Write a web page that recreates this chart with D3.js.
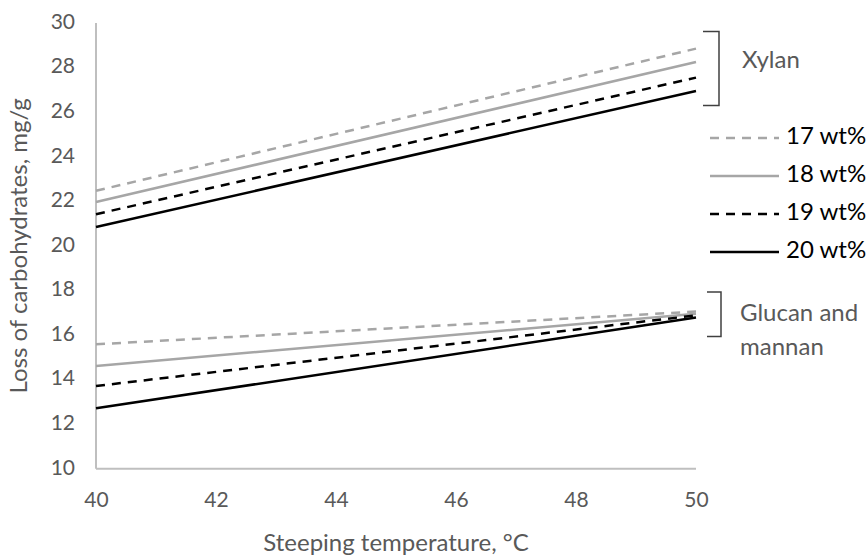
<!DOCTYPE html>
<html><head><meta charset="utf-8">
<script src="https://cdn.jsdelivr.net/npm/d3@7"></script>
<style>
html,body{margin:0;padding:0;background:#fff;}
svg{display:block;font-family:Lato,"Open Sans",sans-serif;}
</style></head>
<body>
<svg id="c" width="867" height="558"></svg>
<script>
const temps = [40, 50];
const seriesNames = ["17 wt%", "18 wt%", "19 wt%", "20 wt%"];
const xylan17 = [22.47, 28.85];
const xylan18 = [21.97, 28.25];
const xylan19 = [21.42, 27.55];
const xylan20 = [20.85, 26.95];
const glucan17 = [15.58, 17.05];
const glucan18 = [14.61, 16.95];
const glucan19 = [13.71, 16.88];
const glucan20 = [12.71, 16.78];
const xTicks = [40, 42, 44, 46, 48, 50];
const yTicks = [10, 12, 14, 16, 18, 20, 22, 24, 26, 28, 30];
const groupLabels = ["Xylan", "Glucan and", "mannan"];

const styles = [
  {color: "#a6a6a6", dash: "9,7"},
  {color: "#a6a6a6", dash: null},
  {color: "#000000", dash: "9,7"},
  {color: "#000000", dash: null}
];
const xylanSeries = [xylan17, xylan18, xylan19, xylan20];
const glucanSeries = [glucan17, glucan18, glucan19, glucan20];

const svg = d3.select("#c");
const x = d3.scaleLinear().domain([40, 50]).range([96, 696]);
const y = d3.scaleLinear().domain([10, 30]).range([468.7, 23]);

// axes lines
svg.append("line").attr("x1", x(40)).attr("x2", x(40)).attr("y1", y(30)).attr("y2", y(10))
  .attr("stroke", "#bfbfbf").attr("stroke-width", 2);
svg.append("line").attr("x1", x(40)).attr("x2", x(50)).attr("y1", y(10)).attr("y2", y(10))
  .attr("stroke", "#bfbfbf").attr("stroke-width", 2);

const xAxis = d3.axisBottom(x).tickValues(xTicks).tickSize(0).tickPadding(0);
const gx = svg.append("g").attr("transform", `translate(0,${y(10)})`).call(xAxis);
gx.select(".domain").remove();
gx.selectAll("text").attr("dy", null).attr("y", 33).attr("dominant-baseline", "middle")
  .attr("font-size", 21).attr("fill", "#595959").attr("font-family", "Lato");

const yAxis = d3.axisLeft(y).tickValues(yTicks).tickSize(0).tickPadding(0);
const gy = svg.append("g").attr("transform", `translate(${x(40)},0)`).call(yAxis);
gy.select(".domain").remove();
gy.selectAll("text").attr("dy", null).attr("x", -21).attr("dominant-baseline", "middle")
  .attr("font-size", 21).attr("fill", "#595959").attr("font-family", "Lato");

// lines
const line = d3.line().x((d, i) => x(temps[i])).y(d => y(d));
function drawSeries(arr) {
  arr.forEach((s, i) => {
    svg.append("path").datum(s).attr("d", line).attr("fill", "none")
      .attr("stroke", styles[i].color).attr("stroke-width", 2.5)
      .attr("stroke-dasharray", styles[i].dash);
  });
}
drawSeries(xylanSeries);
drawSeries(glucanSeries);

// axis titles
svg.append("text").attr("x", 396).attr("y", 545).attr("text-anchor", "middle")
  .attr("dominant-baseline", "middle").attr("font-size", 24).attr("fill", "#595959")
  .text("Steeping temperature, °C");
svg.append("text").attr("transform", `translate(21,${(y(10) + y(30)) / 2}) rotate(-90)`)
  .attr("text-anchor", "middle").attr("dominant-baseline", "middle")
  .attr("font-size", 24).attr("fill", "#595959").text("Loss of carbohydrates, mg/g");

// brackets
function bracket(x0, x1, y0, y1) {
  svg.append("path").attr("d", `M${x0},${y0}H${x1}V${y1}H${x0}`)
    .attr("fill", "none").attr("stroke", "#404040").attr("stroke-width", 1.5);
}
bracket(703, 719, 31.5, 105.5);
bracket(707, 721, 292, 336.5);

svg.append("text").attr("x", 742).attr("y", 62).attr("dominant-baseline", "middle")
  .attr("font-size", 24).attr("fill", "#595959").text(groupLabels[0]);
svg.append("text").attr("x", 740).attr("y", 315).attr("dominant-baseline", "middle")
  .attr("font-size", 24).attr("fill", "#595959").text(groupLabels[1]);
svg.append("text").attr("x", 740).attr("y", 349).attr("dominant-baseline", "middle")
  .attr("font-size", 24).attr("fill", "#595959").text(groupLabels[2]);

// legend
const legY = [138, 176, 214, 252];
seriesNames.forEach((n, i) => {
  svg.append("line").attr("x1", 710).attr("x2", 779).attr("y1", legY[i]).attr("y2", legY[i])
    .attr("stroke", styles[i].color).attr("stroke-width", 2.5)
    .attr("stroke-dasharray", styles[i].dash);
  svg.append("text").attr("x", 786).attr("y", legY[i]).attr("dominant-baseline", "middle")
    .attr("font-size", 24).attr("fill", "#000").text(n);
});
</script>
</body></html>
